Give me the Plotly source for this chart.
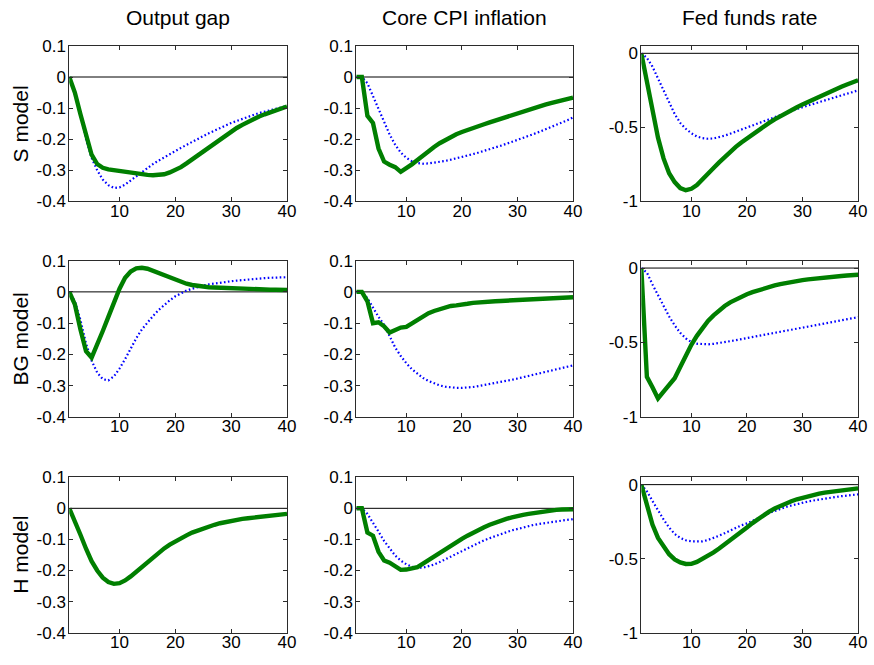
import plotly.graph_objects as go

# Impulse responses over 40 quarters
periods = list(range(1, 41))

models = ["S model", "BG model", "H model"]
variables = ["Output gap", "Core CPI inflation", "Fed funds rate"]

# ---- S model ----
s_gap_solid = [0, -0.05, -0.12, -0.19, -0.25, -0.28, -0.292, -0.297, -0.300, -0.301,
               -0.303, -0.306, -0.309, -0.312, -0.315, -0.316, -0.316, -0.313, -0.307, -0.300,
               -0.290, -0.278, -0.265, -0.252, -0.240, -0.226, -0.212, -0.199, -0.187, -0.175,
               -0.164, -0.154, -0.144, -0.135, -0.127, -0.120, -0.113, -0.106, -0.100, -0.095]
s_gap_dot = [0, -0.05, -0.12, -0.20, -0.26, -0.30, -0.33, -0.348, -0.357, -0.355,
             -0.346, -0.333, -0.319, -0.305, -0.292, -0.280, -0.269, -0.258, -0.248, -0.238,
             -0.228, -0.218, -0.208, -0.199, -0.190, -0.181, -0.172, -0.164, -0.156, -0.148,
             -0.141, -0.134, -0.128, -0.122, -0.116, -0.111, -0.106, -0.101, -0.097, -0.093]
s_cpi_solid = [0, 0, -0.125, -0.148, -0.23, -0.272, -0.282, -0.29, -0.305, -0.294,
               -0.281, -0.267, -0.252, -0.238, -0.225, -0.213, -0.202, -0.192, -0.184, -0.177,
               -0.170, -0.164, -0.158, -0.152, -0.146, -0.140, -0.134, -0.128, -0.122, -0.116,
               -0.110, -0.105, -0.099, -0.094, -0.089, -0.084, -0.079, -0.075, -0.070, -0.066]
s_cpi_dot = [0, 0, -0.02, -0.06, -0.10, -0.145, -0.185, -0.218, -0.243, -0.260,
             -0.271, -0.277, -0.279, -0.278, -0.276, -0.273, -0.270, -0.266, -0.262, -0.258,
             -0.253, -0.248, -0.243, -0.238, -0.233, -0.227, -0.221, -0.215, -0.209, -0.203,
             -0.197, -0.190, -0.183, -0.176, -0.169, -0.162, -0.155, -0.147, -0.139, -0.130]
s_ffr_solid = [0, -0.19, -0.39, -0.57, -0.71, -0.81, -0.87, -0.91, -0.925, -0.915,
               -0.89, -0.855, -0.815, -0.775, -0.737, -0.70, -0.665, -0.632, -0.602, -0.574,
               -0.546, -0.519, -0.494, -0.470, -0.446, -0.424, -0.403, -0.383, -0.364, -0.345,
               -0.327, -0.310, -0.293, -0.277, -0.262, -0.242, -0.226, -0.211, -0.196, -0.182]
s_ffr_dot = [0, -0.03, -0.09, -0.17, -0.25, -0.33, -0.41, -0.47, -0.51, -0.54,
             -0.562, -0.573, -0.577, -0.575, -0.567, -0.556, -0.543, -0.529, -0.514, -0.499,
             -0.485, -0.470, -0.456, -0.442, -0.428, -0.415, -0.402, -0.389, -0.376, -0.364,
             -0.352, -0.340, -0.328, -0.317, -0.306, -0.295, -0.284, -0.273, -0.262, -0.250]

# ---- BG model ----
bg_gap_solid = [0, -0.04, -0.12, -0.19, -0.21, -0.17, -0.125, -0.08, -0.03, 0.01,
                0.045, 0.065, 0.075, 0.077, 0.074, 0.067, 0.059, 0.051, 0.044, 0.037,
                0.031, 0.026, 0.022, 0.019, 0.017, 0.015, 0.014, 0.013, 0.012, 0.011,
                0.010, 0.010, 0.009, 0.009, 0.008, 0.008, 0.007, 0.007, 0.006, 0.006]
bg_gap_dot = [0, -0.03, -0.09, -0.165, -0.22, -0.258, -0.279, -0.283, -0.27, -0.245,
              -0.215, -0.18, -0.148, -0.12, -0.097, -0.077, -0.058, -0.041, -0.027, -0.014,
              -0.004, 0.004, 0.010, 0.016, 0.020, 0.024, 0.027, 0.030, 0.032, 0.034,
              0.036, 0.038, 0.040, 0.041, 0.043, 0.044, 0.045, 0.046, 0.047, 0.047]
bg_cpi_solid = [0, 0, -0.03, -0.10, -0.097, -0.11, -0.13, -0.12, -0.114, -0.112,
                -0.10, -0.088, -0.077, -0.068, -0.061, -0.055, -0.049, -0.045, -0.043, -0.042,
                -0.038, -0.035, -0.033, -0.032, -0.031, -0.030, -0.029, -0.028, -0.027, -0.026,
                -0.025, -0.024, -0.023, -0.022, -0.021, -0.020, -0.019, -0.018, -0.018, -0.017]
bg_cpi_dot = [0, 0, -0.02, -0.05, -0.08, -0.105, -0.14, -0.178, -0.205, -0.228,
              -0.247, -0.262, -0.275, -0.285, -0.293, -0.299, -0.303, -0.306, -0.307, -0.307,
              -0.306, -0.304, -0.301, -0.298, -0.295, -0.292, -0.288, -0.285, -0.281, -0.277,
              -0.273, -0.269, -0.265, -0.261, -0.257, -0.253, -0.249, -0.245, -0.240, -0.235]
bg_ffr_solid = [0, -0.73, -0.80, -0.875, -0.83, -0.79, -0.74, -0.665, -0.585, -0.515,
                -0.455, -0.40, -0.355, -0.318, -0.285, -0.255, -0.23, -0.21, -0.192, -0.176,
                -0.162, -0.149, -0.137, -0.126, -0.117, -0.108, -0.100, -0.093, -0.087, -0.081,
                -0.076, -0.071, -0.067, -0.063, -0.059, -0.056, -0.053, -0.050, -0.047, -0.045]
bg_ffr_dot = [0, -0.03, -0.11, -0.185, -0.26, -0.325, -0.385, -0.435, -0.472, -0.497,
              -0.508, -0.512, -0.512, -0.509, -0.504, -0.498, -0.491, -0.484, -0.477, -0.470,
              -0.463, -0.456, -0.449, -0.442, -0.435, -0.428, -0.421, -0.414, -0.407, -0.400,
              -0.393, -0.386, -0.379, -0.372, -0.365, -0.358, -0.351, -0.344, -0.337, -0.330]

# ---- H model ----
h_gap_solid = [0, -0.04, -0.085, -0.13, -0.17, -0.20, -0.223, -0.237, -0.243, -0.241,
               -0.232, -0.219, -0.204, -0.188, -0.172, -0.157, -0.143, -0.129, -0.117, -0.106,
               -0.096, -0.087, -0.078, -0.071, -0.064, -0.058, -0.053, -0.048, -0.044, -0.040,
               -0.037, -0.034, -0.032, -0.030, -0.028, -0.026, -0.024, -0.022, -0.020, -0.018]
h_cpi_solid = [0, 0, -0.078, -0.088, -0.14, -0.168, -0.175, -0.187, -0.198, -0.197,
               -0.193, -0.189, -0.178, -0.166, -0.154, -0.142, -0.131, -0.120, -0.109, -0.098,
               -0.088, -0.078, -0.069, -0.061, -0.053, -0.046, -0.040, -0.034, -0.029, -0.024,
               -0.021, -0.018, -0.015, -0.012, -0.009, -0.007, -0.005, -0.004, -0.003, -0.003]
h_cpi_dot = [0, 0, -0.018, -0.045, -0.075, -0.105, -0.13, -0.152, -0.168, -0.18,
             -0.188, -0.191, -0.191, -0.187, -0.181, -0.173, -0.164, -0.155, -0.146, -0.137,
             -0.128, -0.119, -0.111, -0.103, -0.096, -0.089, -0.083, -0.077, -0.071, -0.066,
             -0.061, -0.057, -0.053, -0.050, -0.047, -0.045, -0.042, -0.040, -0.037, -0.035]
h_ffr_solid = [0, -0.15, -0.27, -0.36, -0.42, -0.47, -0.505, -0.525, -0.536, -0.535,
               -0.522, -0.503, -0.482, -0.458, -0.432, -0.405, -0.377, -0.349, -0.321, -0.29,
               -0.26, -0.232, -0.206, -0.182, -0.161, -0.142, -0.126, -0.112, -0.099, -0.088,
               -0.078, -0.069, -0.061, -0.054, -0.048, -0.042, -0.037, -0.033, -0.029, -0.025]
h_ffr_dot = [0, -0.045, -0.11, -0.175, -0.235, -0.29, -0.333, -0.36, -0.376, -0.383,
             -0.385, -0.383, -0.374, -0.361, -0.345, -0.328, -0.31, -0.29, -0.275, -0.262,
             -0.243, -0.226, -0.21, -0.192, -0.177, -0.163, -0.151, -0.141, -0.131, -0.122,
             -0.114, -0.107, -0.100, -0.094, -0.088, -0.083, -0.078, -0.074, -0.070, -0.066]

# grid of (solid, dotted) responses: rows = models, cols = variables
panels = [
    [(s_gap_solid, s_gap_dot), (s_cpi_solid, s_cpi_dot), (s_ffr_solid, s_ffr_dot)],
    [(bg_gap_solid, bg_gap_dot), (bg_cpi_solid, bg_cpi_dot), (bg_ffr_solid, bg_ffr_dot)],
    [(h_gap_solid, None), (h_cpi_solid, h_cpi_dot), (h_ffr_solid, h_ffr_dot)],
]

x_tickvals = [10, 20, 30, 40]
x_ticktext = ["10", "20", "30", "40"]
small_tickvals = [-0.4, -0.3, -0.2, -0.1, 0, 0.1]
small_ticktext = ["-0.4", "-0.3", "-0.2", "-0.1", "0", "0.1"]
rate_tickvals = [-1, -0.5, 0]
rate_ticktext = ["-1", "-0.5", "0"]

W, H = 874, 665
col_px = [(70, 290), (360, 579), (648, 867)]
row_px = [(38, 198), (259, 420), (482, 642)]

FONT = "Arial, Liberation Sans, sans-serif"
GREEN = "#007f00"
BLUE = "#0000ff"
AXCOL = "#2b2b2b"

fig = go.Figure()
layout = dict(
    width=W, height=H,
    margin=dict(l=0, r=0, t=0, b=0),
    paper_bgcolor="white", plot_bgcolor="white",
    showlegend=False,
    font=dict(family=FONT, color="black"),
    annotations=[],
)

for r in range(3):
    for c in range(3):
        k = r * 3 + c + 1
        xa = "x" if k == 1 else f"x{k}"
        ya = "y" if k == 1 else f"y{k}"
        solid, dot = panels[r][c]

        # zero reference line
        fig.add_trace(go.Scatter(x=[periods[0], periods[-1]], y=[0, 0], mode="lines",
                                 line=dict(color="black", width=1),
                                 xaxis=xa, yaxis=ya, hoverinfo="skip"))
        if dot is not None:
            fig.add_trace(go.Scatter(x=periods, y=dot, mode="lines",
                                     line=dict(color=BLUE, width=2.2, dash="1.6px,2.4px"),
                                     xaxis=xa, yaxis=ya))
        fig.add_trace(go.Scatter(x=periods, y=solid, mode="lines",
                                 line=dict(color=GREEN, width=4.4),
                                 xaxis=xa, yaxis=ya))

        x0, x1 = col_px[c]
        y0, y1 = row_px[r]
        common = dict(showgrid=False, zeroline=False, showline=True, linecolor=AXCOL,
                      linewidth=1, mirror="allticks", ticks="inside", ticklen=4,
                      tickcolor=AXCOL, tickfont=dict(family=FONT, size=17, color="black"))
        layout["xaxis" if k == 1 else f"xaxis{k}"] = dict(
            domain=[x0 / W, x1 / W], range=[1, 40], anchor=ya,
            tickvals=x_tickvals, ticktext=x_ticktext, ticklabelstandoff=-6, **common)
        if c < 2:
            yr, tv, tt = [-0.4, 0.1], small_tickvals, small_ticktext
        else:
            yr, tv, tt = [-1, 0.05], rate_tickvals, rate_ticktext
        layout["yaxis" if k == 1 else f"yaxis{k}"] = dict(
            domain=[1 - y1 / H, 1 - y0 / H], range=yr, anchor=xa,
            tickvals=tv, ticktext=tt, ticklabelstandoff=-1, **common)

# column titles
for c, name in enumerate(variables):
    x0, x1 = col_px[c]
    layout["annotations"].append(dict(
        text=name, x=(x0 + x1) / 2 / W, y=1 - 9 / H, xref="paper", yref="paper",
        showarrow=False, font=dict(family=FONT, size=21, color="black"),
        xanchor="center", yanchor="middle"))

# model labels
for r, name in enumerate(models):
    y0, y1 = row_px[r]
    layout["annotations"].append(dict(
        text=name, x=21 / W, y=1 - (y0 + y1) / 2 / H, xref="paper", yref="paper",
        showarrow=False, textangle=-90, font=dict(family=FONT, size=21, color="black"),
        xanchor="center", yanchor="middle"))

fig.update_layout(**layout)
fig.write_html("out.html")
